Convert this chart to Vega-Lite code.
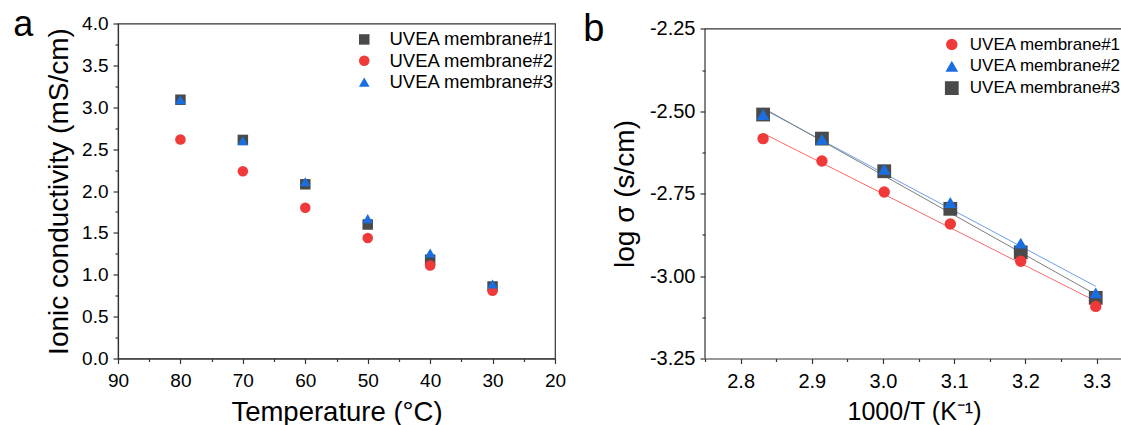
{
  "$schema": "https://vega.github.io/schema/vega-lite/v6.json",
  "background": "white",
  "padding": {"left": 12, "top": 6.5, "right": 0, "bottom": 0},
  "spacing": 150,
  "bounds": "flush",
  "config": {
    "font": "Liberation Sans",
    "locale": {"number": {"decimal": ".", "thousands": ",", "grouping": [3], "currency": ["$", ""], "minus": "-"}},
    "view": {"stroke": "#333333", "strokeWidth": 1.2},
    "axis": {
      "grid": false,
      "domainColor": "#333333",
      "domainWidth": 1.2,
      "tickColor": "#333333",
      "tickWidth": 1.2,
      "labelColor": "#000000",
      "titleColor": "#000000",
      "titleFontWeight": "normal",
      "labelFont": "Liberation Sans",
      "titleFont": "Liberation Sans",
      "labelOverlap": false,
      "labelFlush": false
    },
    "legend": {"labelFont": "Liberation Sans", "labelColor": "#000000", "padding": 0, "symbolStrokeWidth": 0, "labelLimit": 400},
    "title": {"font": "Liberation Sans", "fontWeight": "normal", "color": "#000000"}
  },
  "resolve": {
    "scale": {"color": "independent", "shape": "independent", "size": "independent", "stroke": "independent"},
    "legend": {"color": "independent", "shape": "independent"}
  },
  "hconcat": [
    {
      "width": 437,
      "height": 335,
      "title": {"text": "a", "anchor": "start", "frame": "group", "fontSize": 36, "baseline": "alphabetic", "offset": 0, "dx": -104.7, "dy": 57.7},
      "data": {
        "values": [
          {"temperature": 80, "conductivity": 3.09, "series": "UVEA membrane#1"},
          {"temperature": 70, "conductivity": 2.61, "series": "UVEA membrane#1"},
          {"temperature": 60, "conductivity": 2.08, "series": "UVEA membrane#1"},
          {"temperature": 50, "conductivity": 1.6, "series": "UVEA membrane#1"},
          {"temperature": 40, "conductivity": 1.18, "series": "UVEA membrane#1"},
          {"temperature": 30, "conductivity": 0.86, "series": "UVEA membrane#1"},
          {"temperature": 80, "conductivity": 2.615, "series": "UVEA membrane#2"},
          {"temperature": 70, "conductivity": 2.235, "series": "UVEA membrane#2"},
          {"temperature": 60, "conductivity": 1.8, "series": "UVEA membrane#2"},
          {"temperature": 50, "conductivity": 1.44, "series": "UVEA membrane#2"},
          {"temperature": 40, "conductivity": 1.11, "series": "UVEA membrane#2"},
          {"temperature": 30, "conductivity": 0.81, "series": "UVEA membrane#2"},
          {"temperature": 80, "conductivity": 3.09, "series": "UVEA membrane#3"},
          {"temperature": 70, "conductivity": 2.6, "series": "UVEA membrane#3"},
          {"temperature": 60, "conductivity": 2.11, "series": "UVEA membrane#3"},
          {"temperature": 50, "conductivity": 1.67, "series": "UVEA membrane#3"},
          {"temperature": 40, "conductivity": 1.26, "series": "UVEA membrane#3"},
          {"temperature": 30, "conductivity": 0.89, "series": "UVEA membrane#3"}
        ]
      },
      "mark": {"type": "point", "filled": true, "opacity": 1},
      "encoding": {
        "x": {
          "field": "temperature",
          "type": "quantitative",
          "scale": {"domain": [20, 90], "reverse": true, "nice": false, "zero": false},
          "axis": {
            "title": "Temperature (°C)",
            "values": [20, 25, 30, 35, 40, 45, 50, 55, 60, 65, 70, 75, 80, 85, 90],
            "format": "d",
            "labelExpr": "datum.value % 10 === 0 ? datum.label : ''",
            "tickSize": {"condition": {"test": "datum.value % 10 === 0", "value": 5}, "value": 3},
            "labelFontSize": 19,
            "titleFontSize": 27.5,
            "labelPadding": 8,
            "titlePadding": 7.5
          }
        },
        "y": {
          "field": "conductivity",
          "type": "quantitative",
          "scale": {"domain": [0, 4], "nice": false},
          "axis": {
            "title": "Ionic conductivity (mS/cm)",
            "values": [0, 0.25, 0.5, 0.75, 1, 1.25, 1.5, 1.75, 2, 2.25, 2.5, 2.75, 3, 3.25, 3.5, 3.75, 4],
            "format": ".1f",
            "labelExpr": "datum.value * 2 === round(datum.value * 2) ? datum.label : ''",
            "tickSize": {"condition": {"test": "datum.value * 2 === round(datum.value * 2)", "value": 5}, "value": 3},
            "labelFontSize": 19,
            "titleFontSize": 28,
            "labelPadding": 5,
            "titlePadding": 8
          }
        },
        "color": {
          "field": "series",
          "type": "nominal",
          "scale": {"domain": ["UVEA membrane#1", "UVEA membrane#2", "UVEA membrane#3"], "range": ["#4a4a4a", "#f03a3a", "#1a6ee0"]},
          "legend": {"title": null, "orient": "none", "legendX": 237, "legendY": 6.7, "labelFontSize": 18.5, "labelOffset": 16, "rowPadding": 2.3, "symbolSize": 110, "labelLimit": 400}
        },
        "shape": {
          "field": "series",
          "type": "nominal",
          "scale": {"domain": ["UVEA membrane#1", "UVEA membrane#2", "UVEA membrane#3"], "range": ["square", "circle", "triangle-up"]},
          "legend": {"title": null, "orient": "none", "legendX": 237, "legendY": 6.7, "labelFontSize": 18.5, "labelOffset": 16, "rowPadding": 2.3, "symbolSize": 110, "labelLimit": 400}
        },
        "size": {
          "field": "series",
          "type": "ordinal",
          "scale": {"domain": ["UVEA membrane#1", "UVEA membrane#2", "UVEA membrane#3"], "range": [110, 112, 169]},
          "legend": null
        }
      }
    },
    {
      "width": 418,
      "height": 335,
      "view": {"stroke": null},
      "title": {"text": "b", "anchor": "start", "frame": "group", "fontSize": 38, "baseline": "alphabetic", "offset": 0, "dx": -121.7, "dy": 60.6},
      "encoding": {
        "x": {
          "field": "inv_t",
          "type": "quantitative",
          "title": "1000/T (K⁻¹)",
          "scale": {"domain": [2.75, 3.337], "nice": false, "zero": false},
          "axis": {
            "values": [2.75, 2.8, 2.85, 2.9, 2.95, 3.0, 3.05, 3.1, 3.15, 3.2, 3.25, 3.3],
            "format": ".1f",
            "labelExpr": "abs(datum.value * 10 - round(datum.value * 10)) < 0.001 ? datum.label : ''",
            "tickSize": {"condition": {"test": "abs(datum.value * 10 - round(datum.value * 10)) < 0.001", "value": 5}, "value": 3},
            "labelFontSize": 20,
            "titleFontSize": 25,
            "labelPadding": 8,
            "titlePadding": 8
          }
        },
        "y": {
          "field": "log_sigma",
          "type": "quantitative",
          "title": "log σ (s/cm)",
          "scale": {"domain": [-3.25, -2.2339], "nice": false, "zero": false},
          "axis": {
            "domain": false,
            "values": [-3.25, -3.125, -3.0, -2.875, -2.75, -2.625, -2.5, -2.375, -2.25],
            "format": ".2f",
            "labelExpr": "abs(datum.value * 4 - round(datum.value * 4)) < 0.001 ? datum.label : ''",
            "tickSize": {"condition": {"test": "abs(datum.value * 4 - round(datum.value * 4)) < 0.001", "value": 5}, "value": 3},
            "labelFontSize": 20,
            "titleFontSize": 28,
            "labelPadding": 5,
            "titlePadding": 10,
            "titleY": 170
          }
        }
      },
      "layer": [
        {
          "data": {
            "values": [
              {"inv_t": 2.75, "inv_t_end": 2.75, "log_sigma": -3.25, "log_sigma_end": -2.25},
              {"inv_t": 2.75, "inv_t_end": 3.337, "log_sigma": -2.25, "log_sigma_end": -2.25}
            ]
          },
          "mark": {"type": "rule", "color": "#333333", "strokeWidth": 1.2},
          "encoding": {
            "x2": {"field": "inv_t_end"},
            "y2": {"field": "log_sigma_end"}
          }
        },
        {
          "data": {
            "values": [
              {"inv_t": 2.8316, "log_sigma": -2.567, "fit": "fit#1"},
              {"inv_t": 3.2987, "log_sigma": -3.076, "fit": "fit#1"},
              {"inv_t": 2.8316, "log_sigma": -2.493, "fit": "fit#2"},
              {"inv_t": 3.2987, "log_sigma": -3.031, "fit": "fit#2"},
              {"inv_t": 2.8316, "log_sigma": -2.49, "fit": "fit#3"},
              {"inv_t": 3.2987, "log_sigma": -3.056, "fit": "fit#3"}
            ]
          },
          "mark": {"type": "line", "strokeWidth": 1},
          "encoding": {
            "stroke": {
              "field": "fit",
              "type": "nominal",
              "scale": {"domain": ["fit#1", "fit#2", "fit#3"], "range": ["#f46a6a", "#6c9fea", "#7d7d7d"]},
              "legend": null
            }
          }
        },
        {
          "data": {
            "values": [
              {"inv_t": 2.8316, "log_sigma": -2.51, "series": "UVEA membrane#3"},
              {"inv_t": 2.9142, "log_sigma": -2.583, "series": "UVEA membrane#3"},
              {"inv_t": 3.0017, "log_sigma": -2.682, "series": "UVEA membrane#3"},
              {"inv_t": 3.0945, "log_sigma": -2.796, "series": "UVEA membrane#3"},
              {"inv_t": 3.1934, "log_sigma": -2.928, "series": "UVEA membrane#3"},
              {"inv_t": 3.2987, "log_sigma": -3.066, "series": "UVEA membrane#3"},
              {"inv_t": 2.8316, "log_sigma": -2.583, "series": "UVEA membrane#1"},
              {"inv_t": 2.9142, "log_sigma": -2.651, "series": "UVEA membrane#1"},
              {"inv_t": 3.0017, "log_sigma": -2.745, "series": "UVEA membrane#1"},
              {"inv_t": 3.0945, "log_sigma": -2.842, "series": "UVEA membrane#1"},
              {"inv_t": 3.1934, "log_sigma": -2.955, "series": "UVEA membrane#1"},
              {"inv_t": 3.2987, "log_sigma": -3.092, "series": "UVEA membrane#1"},
              {"inv_t": 2.8316, "log_sigma": -2.51, "series": "UVEA membrane#2"},
              {"inv_t": 2.9142, "log_sigma": -2.585, "series": "UVEA membrane#2"},
              {"inv_t": 3.0017, "log_sigma": -2.676, "series": "UVEA membrane#2"},
              {"inv_t": 3.0945, "log_sigma": -2.777, "series": "UVEA membrane#2"},
              {"inv_t": 3.1934, "log_sigma": -2.9, "series": "UVEA membrane#2"},
              {"inv_t": 3.2987, "log_sigma": -3.051, "series": "UVEA membrane#2"}
            ]
          },
          "mark": {"type": "point", "filled": true, "opacity": 1},
          "encoding": {
            "color": {
              "field": "series",
              "type": "nominal",
              "scale": {"domain": ["UVEA membrane#1", "UVEA membrane#2", "UVEA membrane#3"], "range": ["#f03a3a", "#1a6ee0", "#4a4a4a"]},
              "legend": {"title": null, "orient": "none", "legendX": 238.3, "legendY": 12.5, "labelFontSize": 17, "labelOffset": 9.5, "rowPadding": 3.8, "symbolSize": 110, "labelLimit": 400}
            },
            "shape": {
              "field": "series",
              "type": "nominal",
              "scale": {"domain": ["UVEA membrane#1", "UVEA membrane#2", "UVEA membrane#3"], "range": ["circle", "triangle-up", "square"]},
              "legend": {"title": null, "orient": "none", "legendX": 238.3, "legendY": 12.5, "labelFontSize": 17, "labelOffset": 9.5, "rowPadding": 3.8, "symbolSize": 110, "labelLimit": 400}
            },
            "size": {
              "field": "series",
              "type": "ordinal",
              "scale": {"domain": ["UVEA membrane#1", "UVEA membrane#2", "UVEA membrane#3"], "range": [130, 190, 130]},
              "legend": null
            }
          }
        }
      ]
    }
  ]
}
